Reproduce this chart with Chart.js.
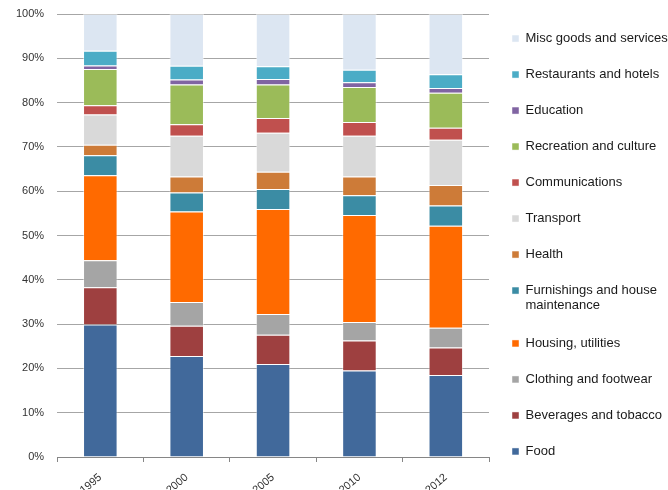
<!DOCTYPE html>
<html>
<head>
    <meta charset="utf-8">
    <title>Household spending shares</title>
    <script src="https://cdn.jsdelivr.net/npm/chart.js"></script>
    <style>
        body {
            margin: 0;
            background-color: #ffffff;
        }
        .chart-container {
            width: 668px;
            height: 490px;
        }
    </style>
</head>
<body>
<div class="chart-container">
    <canvas id="spending_chart"></canvas>
</div>

<script>
const years = ['1995', '2000', '2005', '2010', '2012'];

const food          = [29.9, 22.8, 21.0, 19.5, 18.5];
const beverages     = [8.4, 6.8, 6.6, 6.8, 6.2];
const clothing      = [6.1, 5.4, 4.7, 4.2, 4.5];
const housing       = [19.2, 20.4, 23.7, 24.1, 23.0];
const furnishings   = [4.5, 4.3, 4.5, 4.5, 4.6];
const health        = [2.4, 3.6, 3.9, 4.2, 4.6];
const transport     = [6.8, 9.2, 8.8, 9.2, 10.2];
const communication = [2.1, 2.6, 3.3, 3.1, 2.7];
const recreation    = [8.2, 9.0, 7.6, 7.9, 7.9];
const education     = [0.8, 1.1, 1.2, 1.1, 1.1];
const restaurants   = [3.3, 3.1, 2.9, 2.8, 3.1];
const misc          = [8.3, 11.7, 11.8, 12.6, 13.6];

const yTicks = [0, 10, 20, 30, 40, 50, 60, 70, 80, 90, 100];

function series(label, data, color) {
    return {
        label: label,
        data: data,
        backgroundColor: color,
        borderColor: 'rgba(255, 255, 255, 0.45)',
        borderWidth: 1,
        barPercentage: 0.8,
        categoryPercentage: 0.5
    };
}

const ctx = document.getElementById('spending_chart').getContext('2d');
new Chart(ctx, {
    type: 'bar',
    data: {
        labels: years,
        datasets: [
            series('Food', food, '#41699b'),
            series('Beverages and tobacco', beverages, '#9e4040'),
            series('Clothing and footwear', clothing, '#a5a5a5'),
            series('Housing, utilities', housing, '#ff6a00'),
            series(['Furnishings and house', 'maintenance'], furnishings, '#3b8ca4'),
            series('Health', health, '#cd7b38'),
            series('Transport', transport, '#d9d9d9'),
            series('Communications', communication, '#c0504e'),
            series('Recreation and culture', recreation, '#9bbb59'),
            series('Education', education, '#8064a2'),
            series('Restaurants and hotels', restaurants, '#4bacc6'),
            series('Misc goods and services', misc, '#dce6f2')
        ]
    },
    options: {
        responsive: true,
        maintainAspectRatio: false,
        animation: false,
        layout: {
            padding: { left: 3, top: 0, right: 0, bottom: 0 }
        },
        scales: {
            x: {
                stacked: true,
                afterFit: axis => {
                    axis.height = 33;
                },
                grid: {
                    offset: true,
                    drawOnChartArea: false,
                    drawTicks: true,
                    tickLength: 5,
                    color: '#868686'
                },
                border: { color: '#868686' },
                ticks: {
                    color: '#333333',
                    font: { family: 'Liberation Sans', size: 11 },
                    maxRotation: 40,
                    minRotation: 40,
                    padding: 9
                }
            },
            y: {
                stacked: true,
                min: 0,
                max: 100,
                afterBuildTicks: axis => {
                    axis.ticks = yTicks.map(v => ({ value: v }));
                },
                afterFit: axis => {
                    // plot top sits 14px below the canvas edge, legend keeps full height
                    axis.paddingTop = 14;
                    axis.paddingBottom = 0;
                },
                grid: {
                    drawTicks: false,
                    color: '#a6a6a6'
                },
                border: { display: false },
                ticks: {
                    color: '#333333',
                    padding: 13,
                    font: { family: 'Liberation Sans', size: 11 },
                    callback: value => value + '%'
                }
            }
        },
        plugins: {
            legend: {
                position: 'right',
                reverse: true,
                maxWidth: 179,
                labels: {
                    boxWidth: 7,
                    boxHeight: 7,
                    padding: 23,
                    color: '#1a1a1a',
                    font: { family: 'Liberation Sans', size: 13, lineHeight: 1.15 }
                }
            },
            tooltip: { enabled: false }
        }
    }
});
</script>
</body>
</html>
